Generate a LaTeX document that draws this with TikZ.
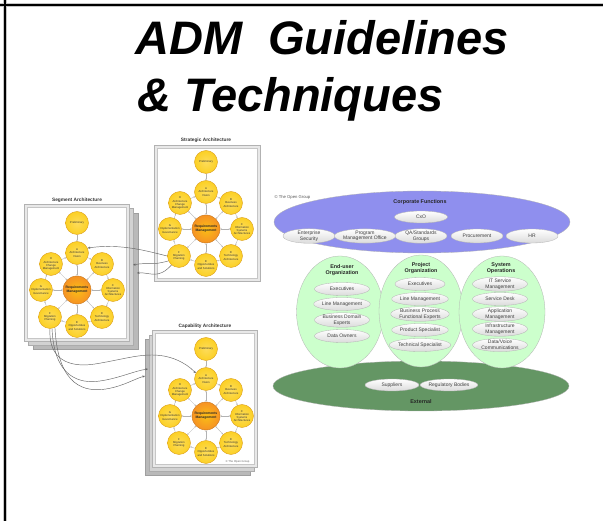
\documentclass[tikz,border=0pt]{standalone}
\usepackage{fontspec}
\setmainfont{Liberation Sans}
\usetikzlibrary{positioning,calc,arrows.meta,shapes.geometric}

\definecolor{corpblue}{RGB}{143,143,238}
\definecolor{orggreen}{RGB}{204,255,204}
\definecolor{extgreen}{RGB}{100,150,100}
\definecolor{phaseyellow}{RGB}{252,208,36}
\definecolor{phaseedge}{RGB}{220,160,30}
\definecolor{reqorange}{RGB}{246,146,36}

% one ADM wheel, #1 = name prefix, #2 = centre
\newcommand{\admwheel}[2]{%
   \node[reqm] (#1-rm) at (#2) {Requirements\\Management};
   \node[phase, above=37pt of #1-rm]                 (#1-A) {A\\Architecture\\Vision};
   \node[phase, above=30pt of #1-A]                  (#1-P) {Preliminary};
   \node[phase, above right=26pt and 25pt of #1-rm]  (#1-B) {B\\Business\\Architecture};
   \node[phase, right=36pt of #1-rm]                 (#1-C) {C\\Information\\Systems\\Architectures};
   \node[phase, below right=27pt and 25pt of #1-rm]  (#1-D) {D\\Technology\\Architecture};
   \node[phase, below=36pt of #1-rm]                 (#1-E) {E\\Opportunities\\and Solutions};
   \node[phase, below left=27pt and 27pt of #1-rm]   (#1-F) {F\\Migration\\Planning};
   \node[phase, left=36pt of #1-rm]                  (#1-G) {G\\Implementation\\Governance};
   \node[phase, above left=26pt and 26pt of #1-rm]   (#1-H) {H\\Architecture\\Change\\Management};
   \draw[ring] (#1-P) -- (#1-A);
   \foreach \phs in {A,B,C,D,E,F,G,H}
      \draw[spoke] (#1-rm) -- (#1-\phs);
   \foreach \pa/\pb in {A/B,B/C,C/D,D/E,E/F,F/G,G/H,H/A}
      \draw[ring] (#1-\pa) -- (#1-\pb);
}

\begin{document}
\begin{tikzpicture}[x=1pt,y=-1pt,
   phase/.style = {circle, on grid, draw=phaseedge, line width=0.4pt,
      inner color=phaseyellow!75!white, outer color=phaseyellow,
      minimum size=23pt, inner sep=0pt, align=center, text=black!80,
      font=\fontsize{2.8}{3.2}\selectfont},
   reqm/.style = {circle, draw=reqorange!80!black, line width=0.4pt,
      inner color=reqorange!60!yellow, outer color=reqorange,
      minimum size=28pt, inner sep=0pt, align=center, text=black!85,
      font=\fontsize{3.4}{3.9}\selectfont\bfseries},
   spoke/.style = {draw=gray!60, line width=0.35pt,
      {Stealth[length=1.6pt,width=1.5pt]}-{Stealth[length=1.6pt,width=1.5pt]}},
   ring/.style = {draw=gray!60, line width=0.35pt,
      -{Stealth[length=1.6pt,width=1.5pt]}},
   flow/.style = {draw=black!60, line width=0.45pt,
      -{Stealth[length=2.6pt,width=2.2pt]}},
   pagetitle/.style = {font=\fontsize{4.8}{5}\selectfont\bfseries, text=black!80},
   sheetdark/.style = {draw=gray!75, fill=gray!55},
   sheetmid/.style = {draw=gray!65, fill=gray!35},
   sheet/.style = {draw=gray!60, fill=gray!18},
   sheetin/.style = {draw=gray!45, fill=white},
   unit/.style = {ellipse, draw=gray!60, line width=0.3pt, inner sep=0pt},
   item/.style = {ellipse, draw=gray!60, line width=0.3pt, top color=white,
      bottom color=gray!28, minimum width=55pt, minimum height=13pt,
      inner sep=0pt, align=center, text=black!75,
      font=\fontsize{5}{5.6}\selectfont},
   unitlabel/.style = {align=center, text=black!85,
      font=\fontsize{5.4}{6.4}\selectfont\bfseries},
   small/.style = {text=black!65, font=\fontsize{4.2}{4.2}\selectfont},
]
   \useasboundingbox[fill=white] (0,0) rectangle (603,521);

   % slide frame
   \draw[line width=4pt, gray!45] (0,5) -- (603,5);
   \draw[line width=4pt, gray!45] (5,0) -- (5,521);
   \draw[line width=2.4pt] (0,5) -- (603,5);
   \draw[line width=2.4pt] (5,0) -- (5,521);

   % title
   \node[anchor=base west, inner sep=0pt,
      font=\fontsize{47}{47}\selectfont\bfseries\itshape] (title1) at (135,55)
      {ADM\ \ Guidelines};
   \node[anchor=base west, inner sep=0pt,
      font=\fontsize{47}{47}\selectfont\bfseries\itshape] (title2) at (137,112)
      {\&\ Techniques};

   % pages
   \draw[sheet]   (154,145) rectangle (260,281);
   \draw[sheetin] (157,148) rectangle (257,278);
   \node[pagetitle] (strat-title) at (206,140) {Strategic Architecture};

   \draw[sheetdark] (33,213) rectangle (138,349);
   \draw[sheetmid]  (28,208) rectangle (133,345);
   \draw[sheet]     (24,204) rectangle (129,341);
   \draw[sheetin]   (27,207) rectangle (126,338);
   \node[pagetitle] (seg-title) at (77,200) {Segment Architecture};

   \draw[sheetdark] (145,339) rectangle (250,475);
   \draw[sheetmid]  (149,335) rectangle (254,471);
   \draw[sheet]     (152,330) rectangle (257,467);
   \draw[sheetin]   (155,333) rectangle (254,464);
   \node[pagetitle] (cap-title) at (205,326) {Capability Architecture};
   \node[anchor=east, text=black!60, font=\fontsize{2.8}{3}\selectfont]
      (cap-copy) at (253,462) {\textcopyright{} The Open Group};

   % wheels
   \admwheel{strat}{206,229}
   \admwheel{seg}{77,290}
   \admwheel{cap}{206,416}

   % strategic -> segment
   \coordinate (seg-in1) at (133,265);
   \coordinate (seg-in2) at (137,273);
   \draw[flow] (strat-F.west) .. controls (150,252) and (122,243) .. (seg-A.25);
   \draw[flow] (strat-F.205) .. controls (150,266) and (148,262) .. (seg-in1);
   \draw[flow] (strat-F.230) .. controls (158,280) and (150,272) .. (seg-in2);

   % segment -> capability
   \coordinate (cap-in1) at (148,369);
   \coordinate (cap-in2) at (145,376);
   \draw[flow] (seg-F.south) .. controls (48,360) and (70,368) .. (95,364)
      .. controls (120,360) and (135,355) .. (152,355)
      .. controls (170,355) and (185,362) .. (cap-A.150);
   \draw[flow] (seg-F.-80) .. controls (54,378) and (80,384) .. (100,381)
      .. controls (120,378) and (134,371) .. (cap-in1);
   \draw[flow] (seg-F.-65) .. controls (58,388) and (86,392) .. (106,389)
      .. controls (124,386) and (134,379) .. (cap-in2);

   % organisation view
   \node[anchor=west, small] (og-copy) at (271,197) {\textcopyright{} The Open Group};

   \node[unit, fill=extgreen, minimum width=296pt, minimum height=50pt]
      (external) at (421,386) {};
   \node[unit, fill=orggreen, minimum width=87pt, minimum height=112pt]
      (enduser) at (340,312) {};
   \node[unit, fill=orggreen, minimum width=84pt, minimum height=112pt]
      (project) at (421,311) {};
   \node[unit, fill=orggreen, minimum width=86pt, minimum height=112pt]
      (sysops) at (502,312) {};
   \node[unit, fill=corpblue, minimum width=296pt, minimum height=62pt]
      (corp) at (422,222) {};

   \node[unitlabel] (corp-title) at (420,202) {Corporate Functions};
   \node[item, minimum width=53pt, minimum height=12pt] (corp-cxo) at (421,217) {CxO};
   \node[item, minimum width=52pt, minimum height=14pt] (corp-es)   at (309,236) {Enterprise\\Security};
   \node[item, minimum width=52pt, minimum height=14pt] (corp-pmo)  at (365,236) {Program\\Management Office};
   \node[item, minimum width=52pt, minimum height=14pt] (corp-qa)   at (421,236) {QA/Standards\\Groups};
   \node[item, minimum width=52pt, minimum height=14pt] (corp-proc) at (477,236) {Procurement};
   \node[item, minimum width=52pt, minimum height=14pt] (corp-hr)   at (532,236) {HR};

   \node[unitlabel] (eu-title) at (342,270) {End-user\\Organization};
   \node[item] (eu-exec) at (342,289) {Executives};
   \node[item] (eu-line) at (342,304) {Line Management};
   \node[item] (eu-bde)  at (342,320) {Business Domain\\Experts};
   \node[item] (eu-data) at (342,336) {Data Owners};

   \node[unitlabel] (po-title) at (421,268) {Project\\Organization};
   \node[item, minimum width=50pt] (po-exec) at (420,284) {Executives};
   \node[item, minimum width=50pt] (po-line) at (420,299) {Line Management};
   \node[item, minimum width=50pt] (po-bpf)  at (420,314) {Business Process\\Functional Experts};
   \node[item, minimum width=50pt] (po-prod) at (420,330) {Product Specialist};
   \node[item, minimum width=50pt] (po-tech) at (420,345) {Technical Specialist};

   \node[unitlabel] (so-title) at (501,268) {System\\Operations};
   \node[item] (so-itsm)  at (500,284) {IT Service\\Management};
   \node[item] (so-desk)  at (500,299) {Service Desk};
   \node[item] (so-app)   at (500,314) {Application\\Management};
   \node[item] (so-infra) at (500,329) {Infrastructure\\Management};
   \node[item] (so-dv)    at (500,345) {Data/Voice\\Communications};

   \node[item, minimum width=54pt, minimum height=12pt] (ext-sup) at (392,385) {Suppliers};
   \node[item, minimum width=54pt, minimum height=12pt] (ext-reg) at (449,385) {Regulatory Bodies};
   \node[unitlabel] (ext-title) at (421,402) {External};
\end{tikzpicture}
\end{document}
